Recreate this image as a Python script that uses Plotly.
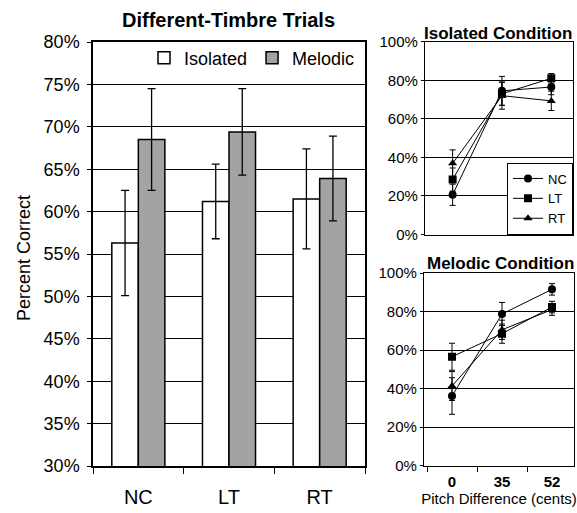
import plotly.graph_objects as go

# ---- data ----
groups = ["NC", "LT", "RT"]
isolated_pct = [56.3, 61.2, 61.5]
isolated_err = [6.2, 4.4, 5.9]
melodic_pct = [68.5, 69.4, 63.9]
melodic_err = [6.0, 5.1, 5.0]

pitch_labels = ["0", "35", "52"]
iso_nc = [20.6, 74.5, 76.5]
iso_nc_err = [5.5, 7.5, 4.0]
iso_lt = [28.5, 73.0, 81.0]
iso_lt_err = [6.0, 6.0, 2.5]
iso_rt = [36.9, 72.0, 69.3]
iso_rt_err = [7.0, 7.0, 5.0]

mel_nc = [36.1, 78.7, 91.5]
mel_nc_err = [9.5, 6.0, 3.0]
mel_lt = [56.5, 68.5, 82.3]
mel_lt_err = [7.0, 5.0, 3.0]
mel_rt = [41.3, 70.5, 81.0]
mel_rt_err = [7.5, 5.0, 3.0]

FONT = "Liberation Sans, Arial, sans-serif"
W, H = 577, 513

def px_x(p):
    return p / W

def px_y(p):
    return 1 - p / H

fig = go.Figure()

# ---- main bar chart ----
fig.add_trace(go.Bar(
    x=groups, y=isolated_pct, name="Isolated",
    marker=dict(color="white", line=dict(color="black", width=1.5)),
    error_y=dict(type="data", array=isolated_err, color="black", thickness=1.3, width=4),
    xaxis="x", yaxis="y", legend="legend",
))
fig.add_trace(go.Bar(
    x=groups, y=melodic_pct, name="Melodic",
    marker=dict(color="#a3a3a3", line=dict(color="black", width=1.5)),
    error_y=dict(type="data", array=melodic_err, color="black", thickness=1.3, width=4),
    xaxis="x", yaxis="y", legend="legend",
))

# ---- small line charts ----
symbols = {"NC": "circle", "LT": "square", "RT": "triangle-up"}
sizes = {"NC": 8, "LT": 8, "RT": 8}
iso_series = [("NC", iso_nc, iso_nc_err), ("LT", iso_lt, iso_lt_err), ("RT", iso_rt, iso_rt_err)]
mel_series = [("NC", mel_nc, mel_nc_err), ("LT", mel_lt, mel_lt_err), ("RT", mel_rt, mel_rt_err)]

for name, vals, errs in iso_series:
    fig.add_trace(go.Scatter(
        x=pitch_labels, y=vals, name=name, mode="lines+markers",
        line=dict(color="black", width=1),
        marker=dict(symbol=symbols[name], size=sizes[name], color="black"),
        error_y=dict(type="data", array=errs, color="black", thickness=1, width=3),
        xaxis="x2", yaxis="y2", legend="legend2",
    ))
for name, vals, errs in mel_series:
    fig.add_trace(go.Scatter(
        x=pitch_labels, y=vals, name=name, mode="lines+markers",
        line=dict(color="black", width=1),
        marker=dict(symbol=symbols[name], size=sizes[name], color="black"),
        error_y=dict(type="data", array=errs, color="black", thickness=1, width=3),
        xaxis="x3", yaxis="y3", showlegend=False,
    ))

grid = dict(showgrid=True, gridcolor="black", gridwidth=1.3)

fig.update_layout(
    width=W, height=H,
    margin=dict(l=0, r=0, t=0, b=0),
    paper_bgcolor="white", plot_bgcolor="white",
    font=dict(family=FONT, color="black"),
    barmode="group", bargap=0.415, bargroupgap=0,
    xaxis=dict(
        domain=[px_x(93), px_x(365)], anchor="y", type="category",
        showline=True, linecolor="black", linewidth=1.5, mirror=True,
        ticks="outside", tickson="boundaries", ticklen=6, tickcolor="black",
        tickfont=dict(size=20), ticklabelstandoff=12, automargin=False,
        showgrid=False,
    ),
    yaxis=dict(
        domain=[px_y(466), px_y(42)], anchor="x", range=[30, 80],
        dtick=5, ticksuffix="%", tickfont=dict(size=18),
        showline=True, linecolor="black", linewidth=1.5, mirror=True,
        ticks="outside", ticklen=4, tickcolor="black", automargin=False,
        ticklabelstandoff=4,
        zeroline=False, **grid,
    ),
    xaxis2=dict(
        domain=[px_x(425), px_x(573)], anchor="y2", type="category",
        range=[-0.56, 2.44],
        showline=True, linecolor="black", linewidth=1.2, mirror=True,
        showticklabels=False, ticks="", showgrid=False, automargin=False,
    ),
    yaxis2=dict(
        domain=[px_y(234.5), px_y(41.7)], anchor="x2", range=[0, 100],
        dtick=20, ticksuffix="%", tickfont=dict(size=15),
        showline=True, linecolor="black", linewidth=1.2, mirror=True,
        ticks="outside", ticklen=3, tickcolor="black", automargin=False,
        zeroline=False, **grid,
    ),
    xaxis3=dict(
        domain=[px_x(424), px_x(574)], anchor="y3", type="category",
        range=[-0.56, 2.44],
        showline=True, linecolor="black", linewidth=1.2, mirror=True,
        ticks="outside", tickson="boundaries", ticklen=5, tickcolor="black",
        tickfont=dict(size=15, weight="bold"),
        ticklabelstandoff=2,
        title=dict(text="Pitch Difference (cents)", font=dict(size=15), standoff=1),
        showgrid=False, automargin=False,
    ),
    yaxis3=dict(
        domain=[px_y(465.5), px_y(273)], anchor="x3", range=[0, 100],
        dtick=20, ticksuffix="%", tickfont=dict(size=15),
        showline=True, linecolor="black", linewidth=1.2, mirror=True,
        ticks="outside", ticklen=3, tickcolor="black", automargin=False,
        zeroline=False, **grid,
    ),
    legend=dict(
        orientation="h", x=px_x(360), xanchor="right", y=px_y(58), yanchor="middle",
        font=dict(size=18), bgcolor="rgba(0,0,0,0)", itemwidth=30,
        traceorder="normal",
    ),
    legend2=dict(
        x=px_x(573), xanchor="right", y=px_y(234.5), yanchor="bottom",
        font=dict(size=13), bgcolor="white", bordercolor="black", borderwidth=1,
        itemwidth=30, tracegroupgap=0,
    ),
    showlegend=True,
    annotations=[
        dict(text="<b>Different-Timbre Trials</b>", x=px_x(228), y=px_y(20),
             xref="paper", yref="paper", showarrow=False, font=dict(size=20),
             xanchor="center", yanchor="middle"),
        dict(text="Percent Correct", x=px_x(24), y=px_y(258), textangle=-90,
             xref="paper", yref="paper", showarrow=False, font=dict(size=18),
             xanchor="center", yanchor="middle"),
        dict(text="<b>Isolated Condition</b>", x=px_x(498), y=px_y(33),
             xref="paper", yref="paper", showarrow=False, font=dict(size=17),
             xanchor="center", yanchor="middle"),
        dict(text="<b>Melodic Condition</b>", x=px_x(500), y=px_y(263),
             xref="paper", yref="paper", showarrow=False, font=dict(size=17),
             xanchor="center", yanchor="middle"),
    ],
)

fig.write_html(
    "out.html",
    config={"displayModeBar": False},
    post_script="document.body.style.margin='0';document.body.style.overflow='hidden';",
)
